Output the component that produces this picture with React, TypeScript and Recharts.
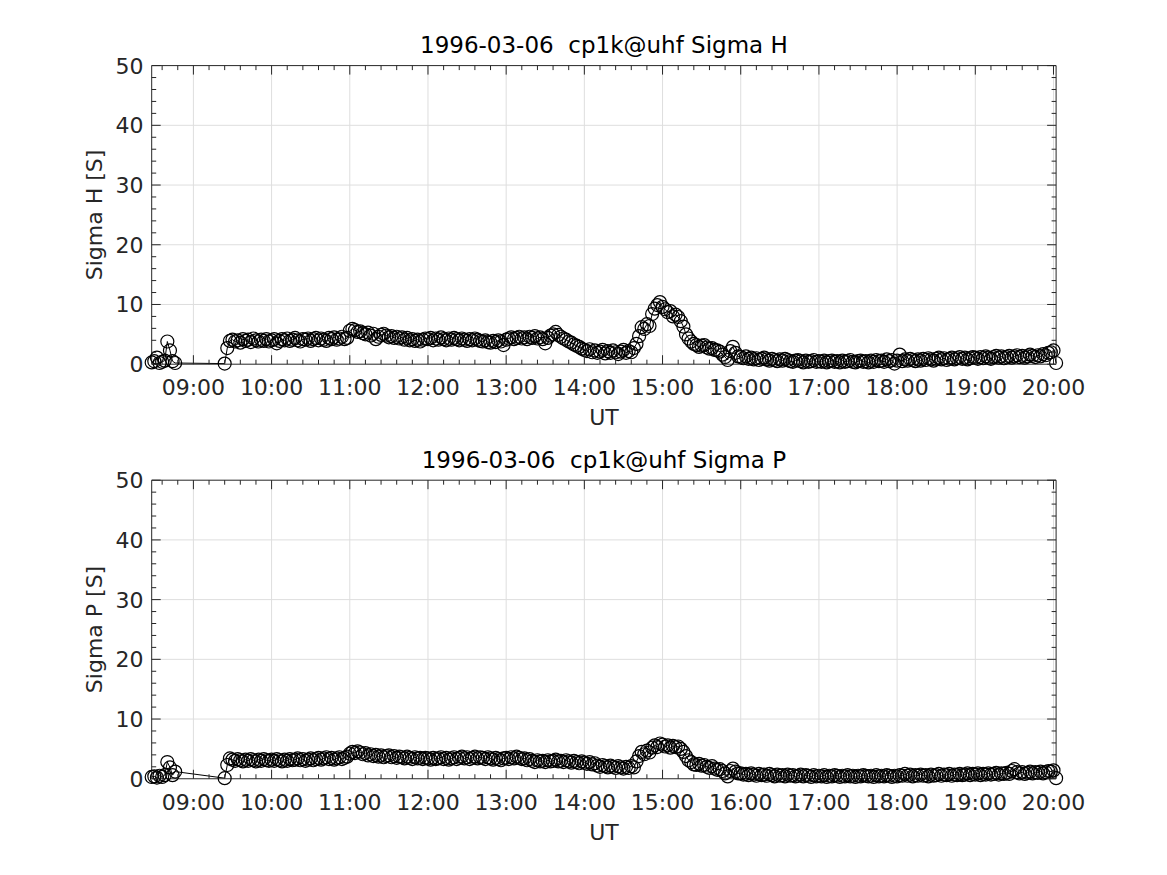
import { Line, LineChart, ReferenceLine, XAxis, YAxis } from "recharts";

const AXIS = "#262626";
const GRID = "#dedede";
const FONT = "DejaVu Sans";

// time axis in minutes after 00:00 UT
const T_MIN = 508;
const T_MAX = 1202;
const hourTicks = [540, 600, 660, 720, 780, 840, 900, 960, 1020, 1080, 1140, 1200];
const minorTimeTicks = Array.from({ length: 58 }, (_, i) => 516 + i * 12);
const Y_MAX = 50;
const yGrid = [10, 20, 30, 40];
const yMinorTicks = Array.from({ length: 26 }, (_, i) => i * 2);

// short first stretch, then a gap, then 2-minute samples from 09:26 to 20:02
const earlyTimes = [508, 510, 512, 514, 516, 518, 520, 522, 524, 526, 564];
const DENSE_START = 566;
const DENSE_STEP = 2;

const earlyH = [0.3, 0.5, 1.1, 0.2, 0.4, 0.6, 3.8, 2.3, 0.5, 0.2, 0.1];
const h09 = [2.7, 3.9, 4.1, 3.8, 4.0, 3.6, 4.2, 3.9, 4.1, 3.7, 4.3, 4.0, 3.8, 4.1, 3.9, 4.2, 3.8];
const h10 = [4.0, 4.2, 3.5, 3.9, 4.2, 4.0, 4.3, 3.9, 4.1, 4.4, 4.0, 3.8, 4.2, 4.1, 4.3, 3.9, 4.2, 4.4, 4.0, 4.3, 4.1, 3.9, 4.4, 4.2, 4.5, 4.1, 4.3, 4.6, 4.2, 4.4];
const h11 = [5.6, 5.9, 5.7, 5.4, 5.5, 5.2, 5.0, 5.3, 4.8, 5.1, 4.2, 4.6, 4.9, 5.1, 4.8, 4.5, 4.7, 4.4, 4.6, 4.3, 4.5, 4.1, 4.4, 4.0, 4.2, 3.9, 4.1, 3.8, 4.1, 4.3];
const h12 = [4.2, 4.4, 4.0, 4.3, 4.1, 4.5, 4.2, 4.0, 4.3, 4.1, 4.4, 4.2, 4.0, 4.3, 4.1, 3.9, 4.2, 4.0, 4.3, 4.1, 3.9, 3.8, 4.0, 3.7, 3.6, 3.9, 3.7, 4.0, 3.8, 3.2];
const h13 = [4.1, 4.3, 4.5, 4.2, 4.4, 4.6, 4.3, 4.5, 4.2, 4.6, 4.4, 4.7, 4.3, 4.5, 4.2, 3.5, 4.4, 4.8, 5.0, 5.4, 4.9, 4.6, 4.3, 4.1, 3.8, 3.6, 3.3, 3.1, 2.9, 2.6];
const h14 = [2.4, 2.2, 2.5, 2.0, 2.3, 1.9, 2.1, 2.4, 1.8, 2.2, 1.9, 2.3, 2.0, 1.7, 2.1, 2.4, 1.9, 2.2, 2.0, 2.7, 3.4, 4.7, 6.2, 5.9, 6.7, 6.4, 8.4, 9.3, 9.9, 10.4];
const h15 = [9.6, 9.2, 8.7, 8.9, 8.0, 8.3, 7.9, 7.2, 6.3, 5.0, 4.3, 3.8, 3.4, 3.2, 2.9, 3.1, 3.2, 2.8, 2.6, 2.7, 2.4, 2.3, 2.1, 1.6, 1.2, 0.7, 2.2, 2.9, 1.9, 1.3];
const h16 = [1.2, 1.0, 1.3, 0.9, 1.1, 0.8, 1.0, 0.7, 0.9, 1.1, 0.8, 0.6, 0.9, 0.7, 0.5, 0.8, 0.6, 0.9, 0.7, 0.5, 0.4, 0.6, 0.7, 0.5, 0.3, 0.6, 0.4, 0.5, 0.7, 0.4];
const h17 = [0.5, 0.4, 0.6, 0.3, 0.5, 0.6, 0.4, 0.5, 0.3, 0.6, 0.4, 0.5, 0.7, 0.4, 0.3, 0.5, 0.6, 0.4, 0.5, 0.3, 0.6, 0.4, 0.7, 0.5, 0.6, 0.4, 0.8, 0.5, 0.7, 0.1];
const h18 = [0.6, 1.6, 0.5, 0.8, 0.6, 0.9, 0.7, 0.5, 0.8, 0.6, 0.9, 0.7, 1.0, 0.8, 0.6, 0.9, 1.1, 0.8, 1.0, 0.7, 0.9, 1.1, 0.8, 1.0, 1.2, 0.9, 1.1, 0.8, 1.0, 1.2];
const h19 = [1.1, 0.9, 1.2, 1.0, 1.3, 1.1, 0.9, 1.2, 1.4, 1.1, 1.3, 1.0, 1.2, 1.4, 1.1, 1.3, 1.5, 1.2, 1.4, 1.1, 1.3, 1.6, 1.4, 1.2, 1.5, 1.3, 1.7, 1.5, 1.9, 2.0];
const h20 = [2.3, 0.2];

const earlyP = [0.3, 0.4, 0.2, 0.5, 0.3, 0.6, 2.8, 1.9, 0.6, 1.2, 0.1];
const p09 = [2.3, 3.4, 3.2, 3.0, 3.3, 3.1, 2.9, 3.2, 3.0, 3.3, 3.1, 2.9, 3.2, 3.0, 3.3, 3.1, 3.0];
const p10 = [3.2, 3.0, 3.3, 3.1, 2.9, 3.2, 3.0, 3.3, 3.1, 3.2, 3.4, 3.1, 3.3, 3.0, 3.2, 3.4, 3.1, 3.3, 3.5, 3.2, 3.4, 3.6, 3.3, 3.5, 3.2, 3.4, 3.6, 3.3, 3.5, 3.7];
const p11 = [4.2, 4.5, 4.3, 4.6, 4.4, 4.1, 4.3, 3.9, 4.1, 3.8, 4.0, 3.7, 3.9, 3.6, 3.8, 3.9, 3.6, 3.8, 3.5, 3.7, 3.6, 3.4, 3.7, 3.5, 3.3, 3.6, 3.4, 3.5, 3.3, 3.5];
const p12 = [3.4, 3.2, 3.5, 3.3, 3.4, 3.6, 3.3, 3.5, 3.2, 3.4, 3.6, 3.3, 3.5, 3.7, 3.4, 3.6, 3.3, 3.5, 3.7, 3.4, 3.6, 3.5, 3.3, 3.6, 3.4, 3.2, 3.5, 3.3, 3.1, 3.4];
const p13 = [3.5, 3.3, 3.6, 3.4, 3.7, 3.5, 3.3, 3.4, 3.1, 3.3, 3.0, 2.8, 3.1, 2.9, 3.0, 2.8, 3.1, 2.9, 3.0, 3.2, 2.9, 3.0, 2.8, 3.1, 2.9, 2.7, 3.0, 2.8, 2.6, 2.9];
const p14 = [2.7, 2.5, 2.8, 2.4, 2.6, 2.2, 2.0, 2.3, 2.1, 1.9, 2.2, 2.0, 1.8, 2.1, 1.9, 1.7, 2.0, 1.8, 2.1, 1.9, 2.9, 3.8, 4.5, 4.1, 4.7, 4.4, 5.2, 5.6, 5.3, 5.9];
const p15 = [5.7, 5.4, 5.6, 5.2, 5.5, 5.3, 5.4, 5.0, 4.5, 3.8, 3.1, 2.8, 2.4, 2.3, 2.5, 2.2, 2.3, 2.0, 1.8, 2.1, 1.7, 1.5, 1.6, 1.3, 0.9, 0.4, 1.3, 1.7, 1.2, 0.9];
const p16 = [0.9, 0.7, 0.8, 0.6, 0.9, 0.7, 0.5, 0.8, 0.6, 0.7, 0.5, 0.8, 0.6, 0.4, 0.7, 0.5, 0.6, 0.4, 0.7, 0.5, 0.6, 0.4, 0.5, 0.7, 0.4, 0.6, 0.5, 0.3, 0.6, 0.4];
const p17 = [0.5, 0.4, 0.6, 0.3, 0.5, 0.4, 0.6, 0.5, 0.3, 0.5, 0.4, 0.6, 0.4, 0.5, 0.3, 0.5, 0.4, 0.6, 0.5, 0.4, 0.5, 0.3, 0.6, 0.4, 0.5, 0.4, 0.6, 0.5, 0.3, 0.5];
const p18 = [0.4, 0.6, 0.5, 0.8, 0.5, 0.7, 0.4, 0.6, 0.5, 0.7, 0.5, 0.6, 0.4, 0.7, 0.5, 0.6, 0.8, 0.5, 0.7, 0.6, 0.8, 0.5, 0.7, 0.6, 0.8, 0.6, 0.7, 0.9, 0.6, 0.8];
const p19 = [0.7, 0.9, 0.6, 0.8, 0.7, 0.9, 0.7, 0.8, 1.0, 0.7, 0.9, 0.8, 1.0, 0.8, 1.3, 1.6, 1.1, 0.9, 1.1, 0.8, 1.0, 1.2, 0.9, 1.1, 1.0, 1.2, 0.9, 1.1, 1.3, 1.2];
const p20 = [1.4, 0.1];

type Row = { t: number; v: number };

function buildRows(early: number[], dense: number[]): Row[] {
  const rows = early.map((v, i) => ({ t: earlyTimes[i], v }));
  dense.forEach((v, i) => rows.push({ t: DENSE_START + i * DENSE_STEP, v }));
  return rows;
}

const sigmaH = buildRows(earlyH, [...h09, ...h10, ...h11, ...h12, ...h13, ...h14, ...h15, ...h16, ...h17, ...h18, ...h19, ...h20]);
const sigmaP = buildRows(earlyP, [...p09, ...p10, ...p11, ...p12, ...p13, ...p14, ...p15, ...p16, ...p17, ...p18, ...p19, ...p20]);

const hhmm = (m: number) =>
  `${String(Math.floor(m / 60)).padStart(2, "0")}:${String(m % 60).padStart(2, "0")}`;

const W = 1167;
const LEFT = 151.7;
const RIGHT = 1056.1;
const X_AXIS_H = 50;
const Y_AXIS_W = 60;
const MAJOR_LEN = 9;
const MINOR_LEN = 4.5;

// ticks point inwards and repeat on the opposite side of the box, like MATLAB
const makeTimeTick = (plotTop: number, plotBottom: number) => (props: any) => {
  const x = props.payload?.coordinate ?? props.x;
  const value = props.payload?.value as number;
  const major = value % 60 === 0;
  const len = major ? MAJOR_LEN : MINOR_LEN;
  return (
    <g>
      <line x1={x} x2={x} y1={plotBottom} y2={plotBottom - len} stroke={AXIS} strokeWidth={1} />
      <line x1={x} x2={x} y1={plotTop} y2={plotTop + len} stroke={AXIS} strokeWidth={1} />
      {major && (
        <text x={x} y={plotBottom + 30.8} textAnchor="middle" fontSize={22} fontFamily={FONT} fill={AXIS}>
          {hhmm(value)}
        </text>
      )}
    </g>
  );
};

const ValueTick = (props: any) => {
  const y = props.payload?.coordinate ?? props.y;
  const value = props.payload?.value as number;
  const major = value % 10 === 0;
  const len = major ? MAJOR_LEN : MINOR_LEN;
  return (
    <g>
      <line x1={LEFT} x2={LEFT + len} y1={y} y2={y} stroke={AXIS} strokeWidth={1} />
      <line x1={RIGHT} x2={RIGHT - len} y1={y} y2={y} stroke={AXIS} strokeWidth={1} />
      {major && (
        <text x={143.5} y={y} dy="0.36em" textAnchor="end" fontSize={22} fontFamily={FONT} fill={AXIS}>
          {value}
        </text>
      )}
    </g>
  );
};

type PanelProps = {
  top: number;
  height: number;
  plotTop: number;
  plotBottom: number;
  rows: Row[];
  title: string;
  yLabel: string;
};

function Panel({ top, height, plotTop, plotBottom, rows, title, yLabel }: PanelProps) {
  const cx = (LEFT + RIGHT) / 2;
  const cy = (plotTop + plotBottom) / 2;
  return (
    <div style={{ position: "absolute", left: 0, top, width: W, height }}>
      <LineChart
        width={W}
        height={height}
        data={rows}
        margin={{
          top: plotTop,
          left: LEFT - Y_AXIS_W,
          right: W - RIGHT,
          bottom: height - plotBottom - X_AXIS_H,
        }}
      >
        {hourTicks.map((h) => (
          <ReferenceLine key={`gx${h}`} x={h} stroke={GRID} strokeWidth={1} />
        ))}
        {yGrid.map((v) => (
          <ReferenceLine key={`gy${v}`} y={v} stroke={GRID} strokeWidth={1} />
        ))}
        <XAxis
          dataKey="t"
          type="number"
          domain={[T_MIN, T_MAX]}
          ticks={minorTimeTicks}
          interval={0}
          height={X_AXIS_H}
          tick={makeTimeTick(plotTop, plotBottom)}
          tickLine={false}
          axisLine={{ stroke: AXIS, strokeWidth: 1 }}
        />
        <YAxis
          type="number"
          domain={[0, Y_MAX]}
          ticks={yMinorTicks}
          interval={0}
          width={Y_AXIS_W}
          tick={ValueTick}
          tickLine={false}
          axisLine={{ stroke: AXIS, strokeWidth: 1 }}
        />
        <ReferenceLine y={Y_MAX} stroke={AXIS} strokeWidth={1} />
        <ReferenceLine x={T_MAX} stroke={AXIS} strokeWidth={1} />
        <Line
          dataKey="v"
          type="linear"
          stroke="#000"
          strokeWidth={1}
          dot={{ r: 6.5, fill: "none", stroke: "#000", strokeWidth: 1.2 }}
          activeDot={false}
          isAnimationActive={false}
        />
      </LineChart>
      <svg
        width={W}
        height={height}
        style={{ position: "absolute", left: 0, top: 0, pointerEvents: "none" }}
        fontFamily={FONT}
        fill={AXIS}
      >
        <text x={cx} y={plotTop - 12.3} fontSize={23} textAnchor="middle" fill="#000" style={{ whiteSpace: "pre" }}>
          {title}
        </text>
        <text x={cx} y={plotBottom + 61} fontSize={22} textAnchor="middle">
          UT
        </text>
        <text x={102.5} y={cy} fontSize={22} textAnchor="middle" transform={`rotate(-90 102.5 ${cy})`}>
          {yLabel}
        </text>
      </svg>
    </div>
  );
}

export default function App() {
  return (
    <div style={{ position: "absolute", left: 0, top: 0, width: W, height: 875, background: "#fff" }}>
      <Panel top={0} height={438} plotTop={65.6} plotBottom={364.2} rows={sigmaH} title="1996-03-06  cp1k@uhf Sigma H" yLabel="Sigma H [S]" />
      <Panel top={438} height={437} plotTop={42.2} plotBottom={340.75} rows={sigmaP} title="1996-03-06  cp1k@uhf Sigma P" yLabel="Sigma P [S]" />
    </div>
  );
}
